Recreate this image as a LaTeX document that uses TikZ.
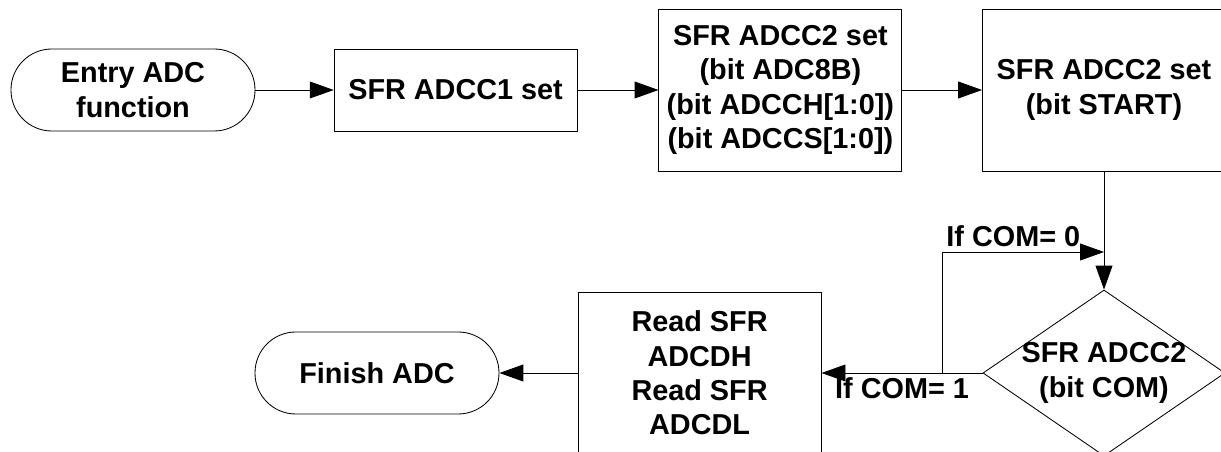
\documentclass[tikz,border=0pt]{standalone}
\usepackage{fontspec}
\setmainfont{Liberation Sans}
\usetikzlibrary{arrows.meta,shapes.geometric}

\begin{document}
\begin{tikzpicture}[
    >={Triangle[length=17pt,width=12pt]},
    every node/.style={font=\bfseries\fontsize{20.5}{24.5}\selectfont, align=center},
    terminal/.style={draw, line width=0.6pt, rounded corners=1.02cm, minimum width=6.1cm, minimum height=2.05cm, inner sep=0pt},
    process/.style={draw, line width=0.6pt, minimum width=6.075cm, minimum height=2.05cm, inner sep=0pt},
    tallbox/.style={process, minimum height=4.05cm},
    decision/.style={draw, line width=0.6pt, diamond, minimum width=6.05cm, minimum height=4.15cm, inner sep=0pt},
    flow/.style={->, line width=0.6pt}
  ]
  \useasboundingbox (0, 0) rectangle (30.525, -11.3);

  % top row
  \node [terminal] (entry) at (3.325, -2.25) {Entry ADC\\function};
  \node [process] (adcc1) at (11.39, -2.25) {SFR ADCC1 set};
  \node [tallbox] (adcc2) at (19.51, -2.25) {SFR ADCC2 set\\(bit ADC8B)\\(bit ADCCH[1:0])\\(bit ADCCS[1:0])};
  \node [tallbox] (start) at (27.6, -2.25) {SFR ADCC2 set\\(bit START)};

  % bottom row
  \node [decision, label={center:SFR ADCC2\\(bit COM)}] (com) at (27.6, -9.325) {};
  \node [tallbox] (read) at (17.49, -9.325) {Read SFR\\ADCDH\\Read SFR\\ADCDL};
  \node [terminal] (finish) at (9.425, -9.325) {Finish ADC};

  \draw [flow] (entry) -- (adcc1);
  \draw [flow] (adcc1) -- (adcc2);
  \draw [flow] (adcc2) -- (start);
  \draw [flow] (start) -- (com);
  \draw [flow] (com) -- node [below] {If COM= 1} (read);
  \draw [flow] (read) -- (finish);

  % wait loop
  \coordinate (split) at (23.55, -9.325);
  \coordinate (join) at (27.6, -6.3);
  \draw [flow] (split) |- node [above, pos=0.72] {If COM= 0} (join);
\end{tikzpicture}
\end{document}
